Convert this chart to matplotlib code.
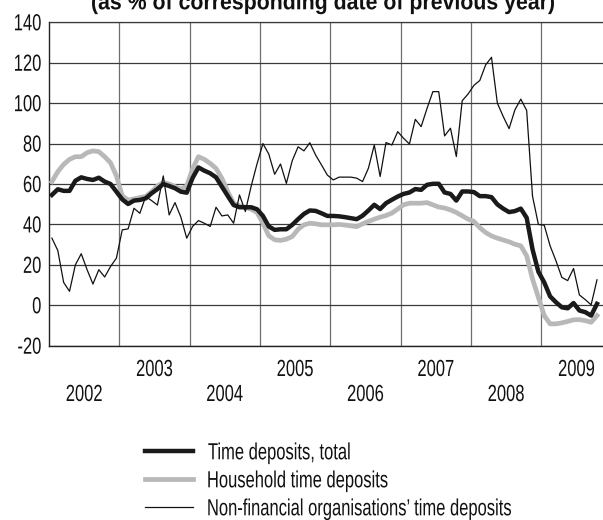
import matplotlib
matplotlib.use("Agg")
import matplotlib.pyplot as plt
import matplotlib.transforms as mtransforms
from matplotlib.textpath import TextPath
from matplotlib.patches import PathPatch
from matplotlib.font_manager import FontProperties
from matplotlib.lines import Line2D
import numpy as np

# Monthly year-on-year growth of time deposits, Jan 2002 - Oct 2009 (%)
start_year = 2002

total = [
    54.6, 57.4, 56.6, 56.6, 61.6, 63.3, 62.5, 62.0, 63.1, 61.2, 60.0, 56.2,
    52.4, 50.1, 51.8, 52.1, 52.9, 55.4, 57.5, 60.0, 59.0, 57.9, 56.2, 55.7,
    63.0, 68.2, 66.6, 65.3, 63.3, 58.7, 54.1, 49.6, 48.5, 48.5, 48.5, 47.5,
    44.2, 39.0, 37.3, 37.6, 37.6, 39.8, 42.6, 45.2, 46.9, 46.7, 45.5, 44.2,
    44.2, 44.0, 43.6, 43.1, 42.6, 44.3, 46.9, 49.7, 47.6, 50.5, 52.2, 53.8,
    55.1, 55.8, 57.5, 57.1, 59.6, 60.1, 60.1, 55.8, 55.1, 51.8, 56.3, 56.3,
    56.0, 54.0, 54.0, 53.5, 49.9, 47.8, 46.1, 46.6, 47.8, 43.3, 27.7, 16.6,
    11.3, 4.4, 1.5, -1.0, -1.5, 1.1, -2.6, -3.4, -5.1, 0.7,
]

household = [
    61.2, 66.1, 69.7, 72.2, 73.5, 73.5, 75.5, 76.4, 76.0, 73.5, 70.5, 64.0,
    54.1, 52.1, 52.6, 53.3, 53.8, 56.2, 59.0, 60.8, 60.0, 58.7, 57.5, 59.0,
    67.5, 73.5, 72.2, 70.2, 67.7, 62.8, 56.2, 50.5, 49.2, 48.5, 47.5, 45.9,
    40.6, 34.4, 32.4, 32.1, 32.7, 34.0, 37.6, 39.8, 40.6, 40.3, 39.8, 39.8,
    39.8, 40.0, 39.7, 39.3, 38.9, 40.3, 41.5, 42.6, 43.6, 44.4, 45.6, 47.6,
    49.7, 50.5, 50.5, 50.5, 50.8, 49.7, 48.6, 48.1, 47.2, 45.9, 44.3, 42.6,
    41.5, 38.4, 36.0, 34.3, 33.2, 32.3, 31.4, 30.2, 29.4, 24.5, 13.0, 3.9,
    -5.1, -9.2, -9.2, -8.7, -8.0, -7.2, -7.1, -7.6, -8.4, -5.1,
]

nonfinancial = [
    33.2, 27.1, 11.3, 6.9, 20.0, 25.5, 17.6, 10.5, 17.6, 14.0, 19.2, 23.3,
    37.3, 37.8, 48.0, 45.5, 53.8, 51.8, 49.6, 64.0, 44.7, 50.8, 43.6, 33.2,
    39.0, 41.9, 40.6, 39.0, 48.5, 44.2, 44.7, 40.6, 54.6, 46.4, 59.0, 70.0,
    80.0, 74.8, 64.8, 69.9, 60.3, 71.5, 78.4, 76.4, 80.4, 74.3, 69.4, 64.4,
    62.0, 63.4, 63.4, 63.4, 62.9, 61.2, 67.8, 79.3, 63.7, 80.5, 79.3, 85.9,
    82.6, 79.8, 92.0, 88.4, 97.4, 105.7, 105.7, 83.8, 87.6, 73.6, 101.2, 104.5,
    108.8, 111.2, 118.9, 122.7, 100.0, 93.4, 87.4, 96.7, 102.0, 96.4, 54.0, 40.0,
    39.6, 29.4, 22.0, 13.8, 12.2, 18.2, 5.1, 2.8, 0.2, 12.6,
]

series_labels = [
    "Time deposits, total",
    "Household time deposits",
    "Non-financial organisations\u2019 time deposits",
]
year_labels = [2002, 2003, 2004, 2005, 2006, 2007, 2008, 2009]
y_ticks = [-20, 0, 20, 40, 60, 80, 100, 120, 140]
title = "(as % of corresponding date of previous year)"

W, H = 603, 520
INK = "#111111"
FONT = "Liberation Sans"
EM = 23.3        # font size in pixels
SQUEEZE = 0.71   # horizontal compression for a condensed look

fig = plt.figure(figsize=(W / 100, H / 100), dpi=100)
left_px, right_px, top_px, bottom_px = 49, 603, 22.3, 345.7
ax = fig.add_axes([left_px / W, 1 - bottom_px / H,
                   (right_px - left_px) / W, (bottom_px - top_px) / H])


def condensed_text(s, x, y, size=EM, ha="left", va="baseline",
                   sx=SQUEEZE, weight="normal", width=None, color=INK):
    """Draw s as a horizontally squeezed glyph outline at display pixel (x, y)."""
    fp = FontProperties(family=FONT, weight=weight)
    tp = TextPath((0, 0), s, size=size, prop=fp)
    bb = tp.get_extents()
    if width is not None:
        sx = width / bb.width
    if ha == "left":
        dx = -bb.x0 * sx
    elif ha == "center":
        dx = -(bb.x0 + bb.width / 2) * sx
    else:
        dx = -bb.x1 * sx
    dy = -(bb.y0 + bb.height / 2) if va == "center" else 0.0
    tr = mtransforms.Affine2D().scale(sx, 1).translate(x + dx, y + dy)
    patch = PathPatch(tr.transform_path(tp), facecolor=color, edgecolor="none",
                      lw=0, transform=mtransforms.IdentityTransform())
    fig.add_artist(patch)
    return patch


months = np.arange(len(total))
x = start_year + (months + 0.5) / 12

ax.set_xlim(year_labels[0], year_labels[0] + (right_px - left_px) / 70.33)
ax.set_ylim(y_ticks[0], y_ticks[-1])

# grid: dark horizontal lines, lighter year separators
ax.set_yticks(y_ticks)
ax.set_xticks(year_labels[1:])
ax.set_xticklabels([])
ax.set_yticklabels([])
ax.grid(axis="y", color="#3a3a3a", linewidth=0.9)
ax.grid(axis="x", color="#6e6e6e", linewidth=0.9)
ax.set_axisbelow(True)
ax.tick_params(length=0)

ax.spines["right"].set_visible(False)
ax.spines["top"].set_color("#3a3a3a")
ax.spines["top"].set_linewidth(0.9)
for side in ("left", "bottom"):
    ax.spines[side].set_color("#222222")
    ax.spines[side].set_linewidth(1.0)

l_hh, = ax.plot(x, household, color="#b8b8b8", linewidth=3.4,
                solid_joinstyle="round", zorder=3)
l_tot, = ax.plot(x, total, color="#1a1a1a", linewidth=3.2,
                 solid_joinstyle="round", zorder=4)
l_nf, = ax.plot(x, nonfinancial, color="#111111", linewidth=0.9, zorder=5)

# y tick labels, right-aligned left of the axis
for v in y_ticks:
    _, py = ax.transData.transform((year_labels[0], v))
    condensed_text(str(v), 40.7, py, ha="right", va="center")

# staggered year labels: odd years on the upper row, even years below
for yr in year_labels:
    px, _ = ax.transData.transform((yr + 0.5, 0))
    base = 376 if yr % 2 else 401
    condensed_text(str(yr), px, H - base, ha="center")

# heading, partly above the top edge
condensed_text(title, 323, H - 9.3, weight="bold", width=462, ha="center")

# legend
legend_rows = [(l_tot, series_labels[0]), (l_hh, series_labels[1]),
               (l_nf, series_labels[2])]
for k, (line, label) in enumerate(legend_rows):
    row_y = H - (451 + 28 * k)
    key = Line2D([145, 193], [row_y, row_y], color=line.get_color(),
                 linewidth=line.get_linewidth(),
                 transform=mtransforms.IdentityTransform())
    fig.add_artist(key)
    condensed_text(label, 208.3, row_y - 8.3)

fig.savefig("out.png", dpi=100)
